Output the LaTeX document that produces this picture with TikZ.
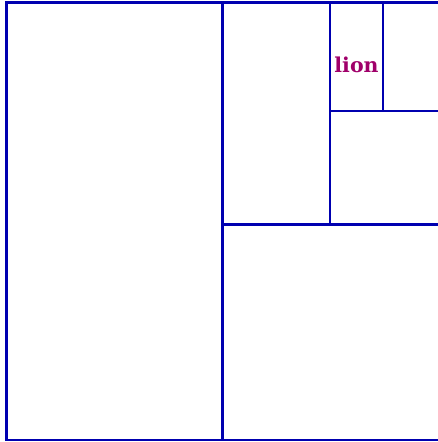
\documentclass[tikz,border=0pt]{standalone}
\usepackage{fontspec}
\newfontfamily\lionfont{DejaVu Serif}
\definecolor{frame}{HTML}{0000B0}
\definecolor{lab}{HTML}{A0006A}
\begin{document}
\begin{tikzpicture}[x=1pt,y=-1pt,
  box/.style={draw=frame,line width=2.5pt},
  lbl/.style={text=lab,font=\lionfont\bfseries\fontsize{20.5}{24}\selectfont,inner sep=0pt}]
\useasboundingbox (0,0) rectangle (438,442);
\clip (0,0) rectangle (438,442);
\draw[box] (6.5,2.5) rectangle (222.5,440);
\draw[box] (222.5,2.5) rectangle (440,224.5);
\draw[box] (222.5,224.5) rectangle (440,440);
\draw[box] (330,2.5) rectangle (440,224.5);
\draw[box] (330,111) rectangle (440,224.5);
\draw[box] (330,2.5) rectangle (383,111);
\node[lbl] (lion) at (356.5,65) {lion};
\end{tikzpicture}
\end{document}
